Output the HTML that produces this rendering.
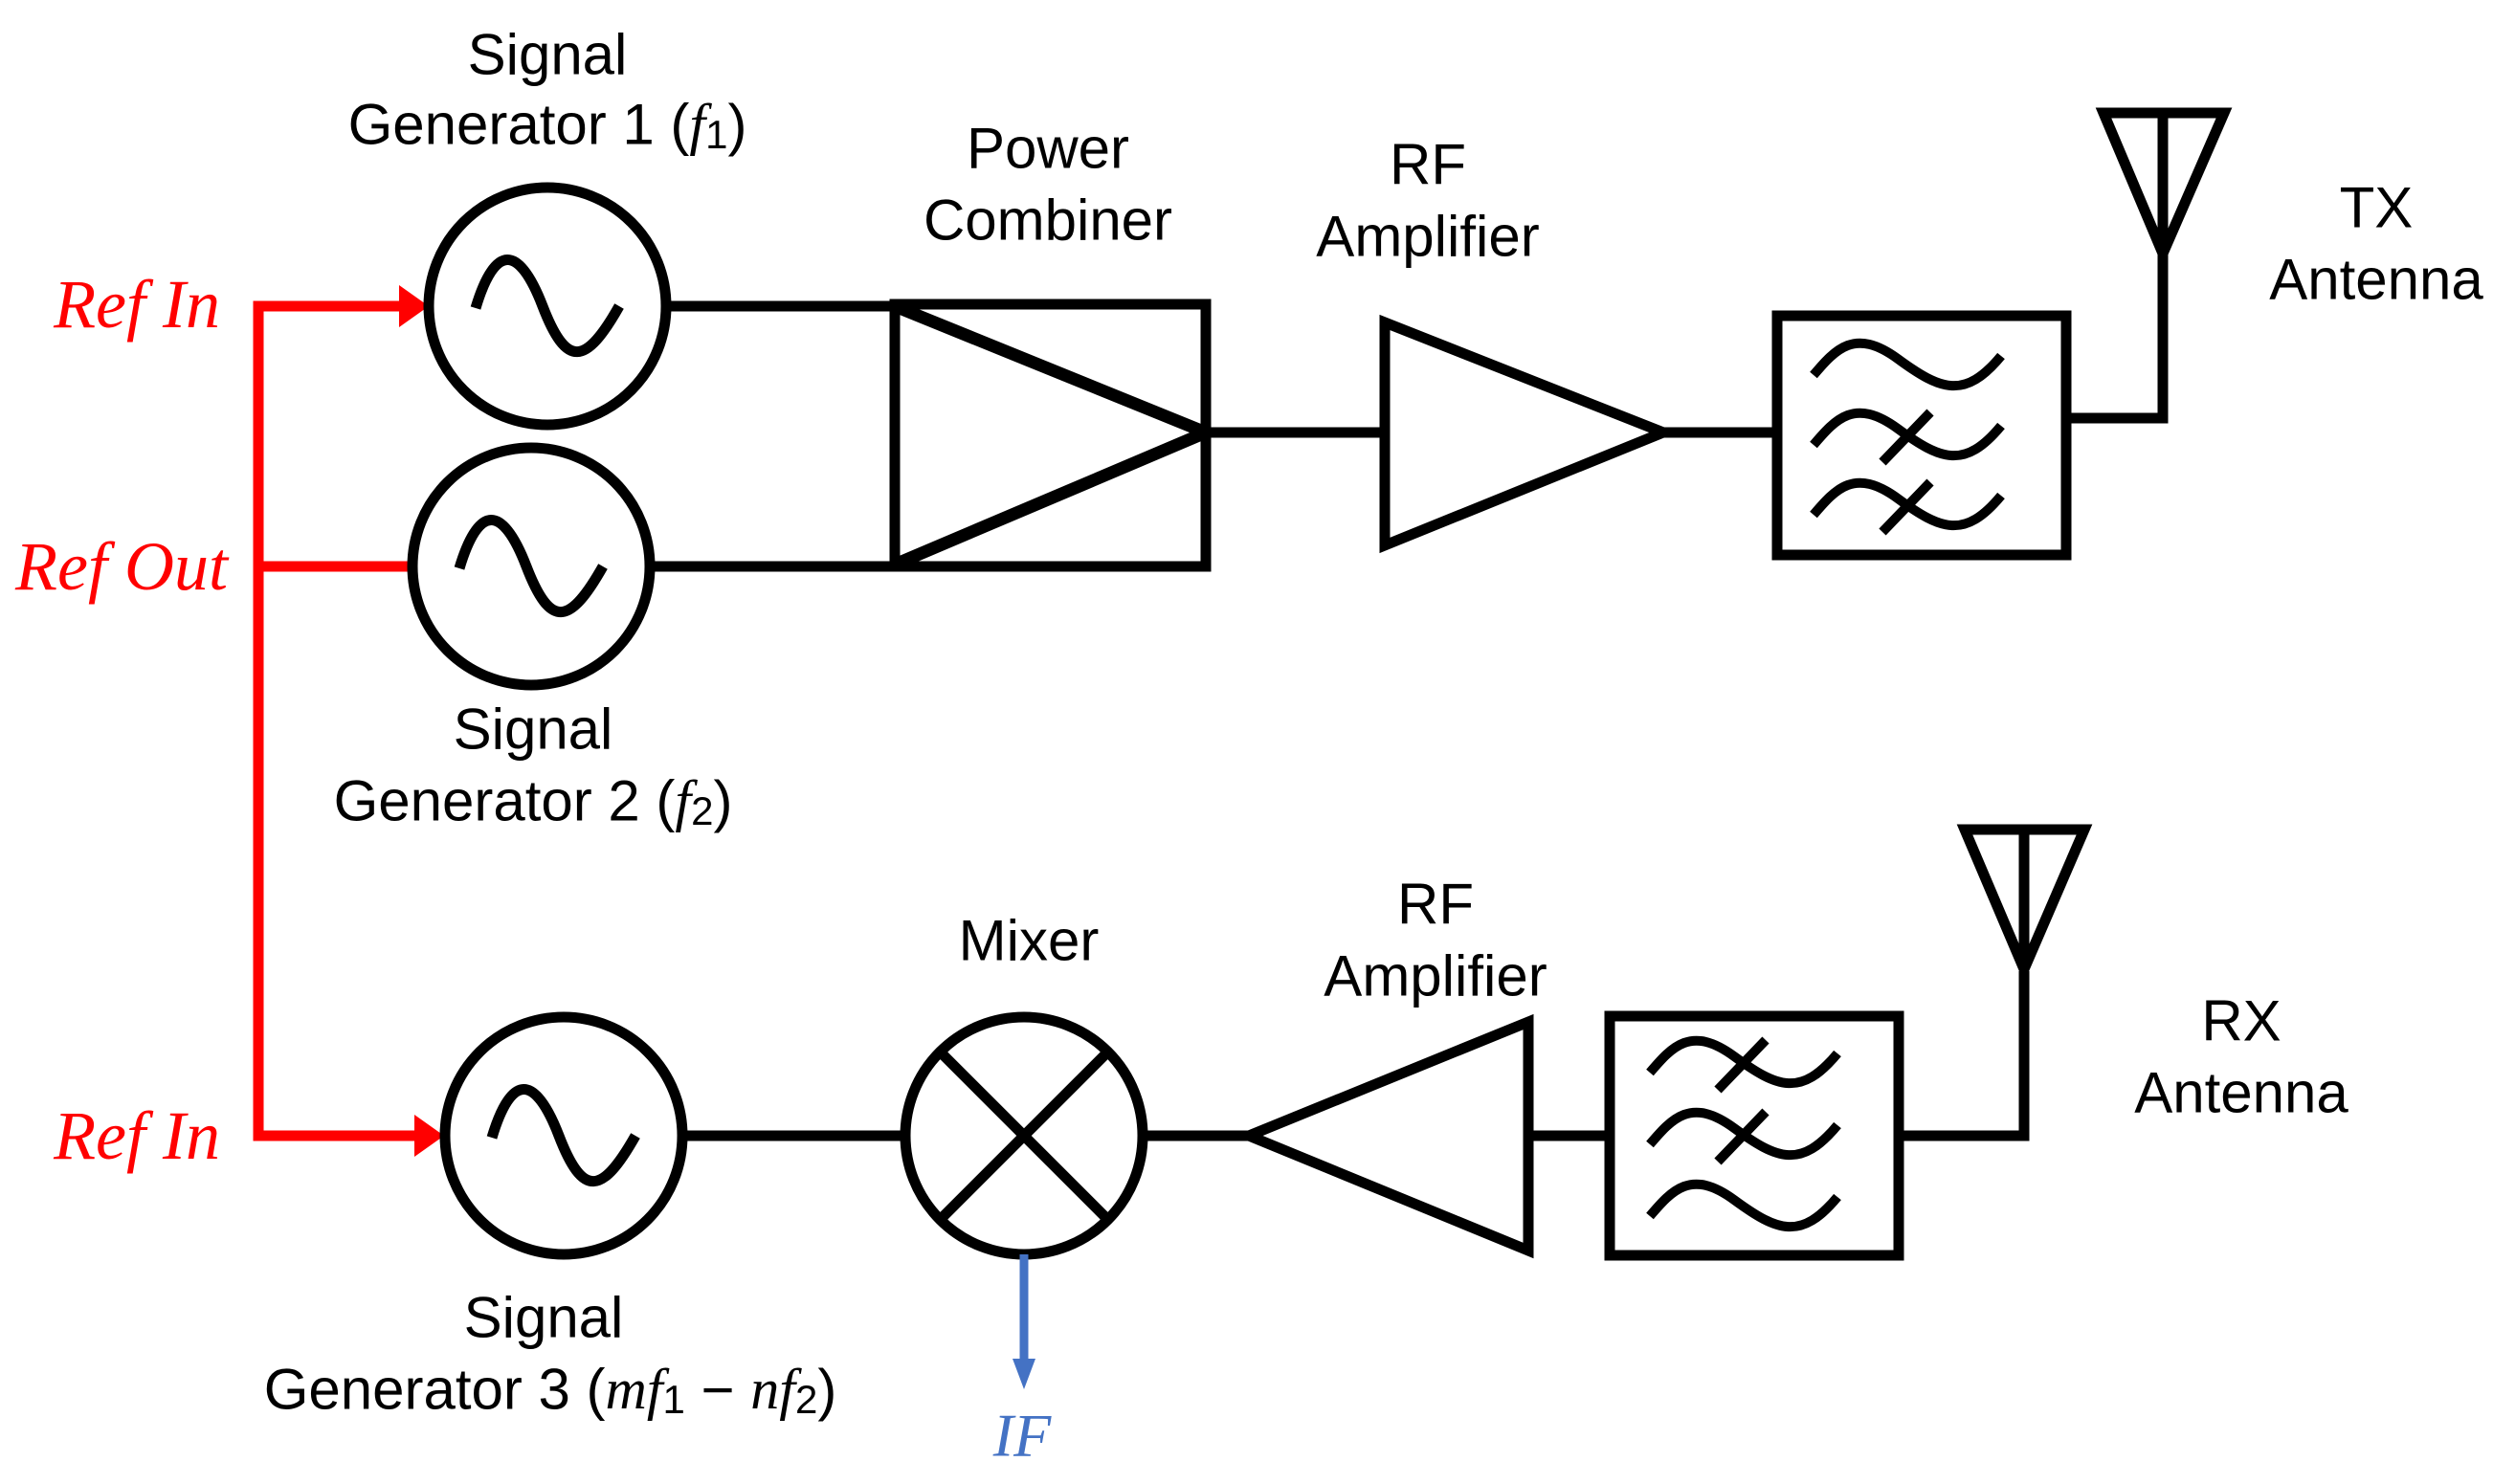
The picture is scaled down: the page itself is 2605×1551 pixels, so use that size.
<!DOCTYPE html>
<html><head><meta charset="utf-8"><style>
html,body{margin:0;padding:0;background:#fff;}
svg{display:block;}
text{font-family:"Liberation Sans",sans-serif;font-size:60px;fill:#000;}
.m{font-family:"Liberation Serif",serif;font-style:italic;}
.r{font-family:"Liberation Serif",serif;font-style:italic;fill:#ff0000;font-size:72px;}
</style></head><body>
<svg width="2605" height="1551" viewBox="0 0 2605 1551" xmlns="http://www.w3.org/2000/svg">
<defs>
<path id="sine" d="M -75,2 C -55,-65 -30,-65 -5,0 S 40,62 75,0" fill="none" stroke="#000" stroke-width="11"/>
<path id="wave" d="M -98,12 C -75,-15 -55,-38 -10,-5 S 60,38 98,-8" fill="none" stroke="#000" stroke-width="10"/>
<line id="slash" x1="-25" y1="28" x2="25" y2="-24" stroke="#000" stroke-width="10"/>
</defs>
<g fill="none" stroke="#000" stroke-width="11">
<g stroke="#ff0000" stroke-width="11">
<polyline points="440,320 270,320 270,1187 450,1187"/>
<line x1="270" y1="592" x2="432" y2="592"/>
</g>
<polygon points="417,298 448,320 417,342" fill="#ff0000" stroke="none"/>
<polygon points="433,1165 464,1187 433,1209" fill="#ff0000" stroke="none"/>
<circle cx="572" cy="320" r="124"/>
<circle cx="555" cy="592" r="124"/>
<circle cx="589" cy="1187" r="124"/>
<line x1="696" y1="320" x2="935" y2="320"/>
<line x1="679" y1="592" x2="935" y2="592"/>
<rect x="935" y="318" width="325" height="274"/>
<polyline points="935,320 1260,452 935,590" stroke-width="13"/>
<line x1="1260" y1="452" x2="1447" y2="452"/>
<polygon points="1447,337 1447,570 1738,452"/>
<line x1="1738" y1="452" x2="1857" y2="452"/>
<rect x="1857" y="330" width="302" height="250"/>
<polyline points="2159,437 2260,437 2260,262"/>
<polygon points="2198,118 2324,118 2260,265"/>
<line x1="2260" y1="118" x2="2260" y2="265"/>
<line x1="713" y1="1187" x2="946" y2="1187"/>
<circle cx="1070" cy="1187" r="124"/>
<line x1="983" y1="1100" x2="1157" y2="1274"/>
<line x1="1157" y1="1100" x2="983" y2="1274"/>
<line x1="1194" y1="1187" x2="1305" y2="1187"/>
<polygon points="1305,1187 1597,1068 1597,1307"/>
<line x1="1597" y1="1187" x2="1682" y2="1187"/>
<rect x="1682" y="1062" width="302" height="250"/>
<polyline points="1984,1187 2115,1187 2115,1015"/>
<polygon points="2053,867 2178,867 2115,1013"/>
<line x1="2115" y1="867" x2="2115" y2="1013"/>
</g>
<use href="#sine" x="572" y="320"/>
<use href="#sine" x="555" y="592"/>
<use href="#sine" x="589" y="1187"/>
<use href="#wave" x="1993" y="380"/>
<use href="#wave" x="1993" y="453"/>
<use href="#slash" x="1992" y="455"/>
<use href="#wave" x="1993" y="526"/>
<use href="#slash" x="1992" y="528"/>
<use href="#wave" x="1822" y="1109"/>
<use href="#slash" x="1820" y="1111"/>
<use href="#wave" x="1822" y="1184"/>
<use href="#slash" x="1820" y="1186"/>
<use href="#wave" x="1822" y="1259"/>
<line x1="1070" y1="1311" x2="1070" y2="1425" stroke="#4472c4" stroke-width="9"/>
<polygon points="1058,1420 1082,1420 1070,1452" fill="#4472c4"/>
<g text-anchor="middle" dominant-baseline="central">
<text x="572" y="57">Signal</text>
<text x="572" y="130">Generator 1 (<tspan class="m">f</tspan><tspan font-size="42" dy="10">1</tspan><tspan dy="-10">)</tspan></text>
<text x="1095" y="155">Power</text>
<text x="1095" y="230">Combiner</text>
<text x="1492" y="172">RF</text>
<text x="1492" y="247">Amplifier</text>
<text x="2483" y="217">TX</text>
<text x="2483" y="292">Antenna</text>
<text x="557" y="762">Signal</text>
<text x="557" y="837">Generator 2 (<tspan class="m">f</tspan><tspan font-size="42" dy="10">2</tspan><tspan dy="-10">)</tspan></text>
<text x="1075" y="983">Mixer</text>
<text x="1500" y="945">RF</text>
<text x="1500" y="1020">Amplifier</text>
<text x="2342" y="1067">RX</text>
<text x="2342" y="1142">Antenna</text>
<text x="568" y="1377">Signal</text>
<text x="575" y="1452">Generator 3 (<tspan class="m">mf</tspan><tspan font-size="42" dy="10">1</tspan><tspan dy="-10"> − </tspan><tspan class="m">nf</tspan><tspan font-size="42" dy="10">2</tspan><tspan dy="-10">)</tspan></text>
<text x="1068" y="1500" class="m" style="fill:#4472c4;font-size:64px">IF</text>
</g>
<g text-anchor="end" dominant-baseline="central">
<text class="r" x="230" y="318">Ref In</text>
<text class="r" x="238" y="592">Ref Out</text>
<text class="r" x="230" y="1187">Ref In</text>
</g>
</svg>
</body></html>
